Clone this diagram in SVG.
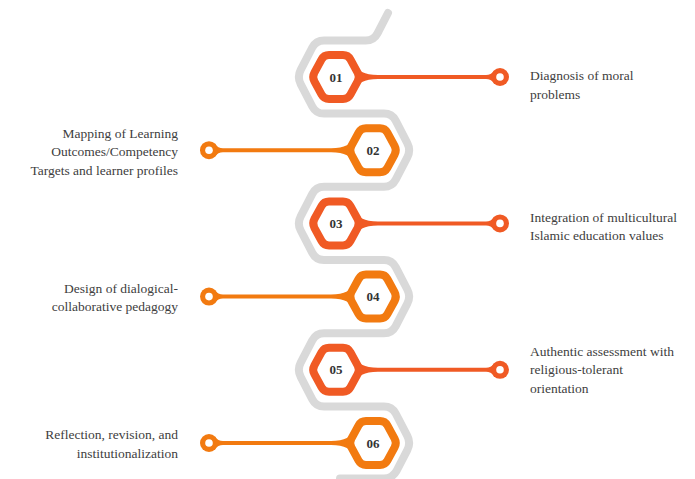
<svg xmlns="http://www.w3.org/2000/svg" xmlns:xlink="http://www.w3.org/1999/xlink" width="695" height="479" viewBox="0 0 695 479">
<style>
.track{fill:none;stroke:#d9d9d9;stroke-width:8;stroke-linecap:round;stroke-linejoin:round}
.hexA{fill:#fff;stroke:#f05a24;stroke-width:8}
.hexB{fill:#fff;stroke:#f27a10;stroke-width:8}
.cA{fill:#f05a24}
.cB{fill:#f27a10}
.num{font-family:"Liberation Serif",serif;font-weight:bold;font-size:13px;fill:#333;text-anchor:middle}
.lbl{font-family:"Liberation Serif",serif;font-size:13.5px;fill:#404040}
.r{text-anchor:end}
</style>
<defs>
<path id="hex" d="M-21.6,-4.4 L-14.4,-17.6 Q-12,-22 -7,-22 L7,-22 Q12,-22 14.4,-17.6 L21.6,-4.4 Q24,0 21.6,4.4 L14.4,17.6 Q12,22 7,22 L-7,22 Q-12,22 -14.4,17.6 L-21.6,4.4 Q-24,0 -21.6,-4.4 Z"/>
<path id="conn" d="M17,-14 C22,-6 28,-2 42,-2 L150,-2 Q155,-2 158,-6 L158,6 Q155,2 150,2 L42,2 C28,2 22,6 17,14 Z"/>
<g id="ring"><circle cx="164" cy="0" r="9"/></g>
</defs>
<g id="track">
<path class="track" d="M388,13 L377.5,33.3 Q373.8,40.4 365.8,40.4 L324,40.4 Q316,40.4 312.3,47.5 L300.7,69.9 Q297,77 300.7,84.1 L312.3,106.5 Q316,113.6 324,113.6 L384,113.6 Q392,113.6 395.7,120.7 L407.3,143.1 Q411,150.2 407.3,157.3 L395.7,179.7 Q392,186.8 384,186.8 L324,186.8 Q316,186.8 312.3,193.9 L300.7,216.3 Q297,223.4 300.7,230.5 L312.3,252.9 Q316,260 324,260 L384,260 Q392,260 395.7,267.1 L407.3,289.5 Q411,296.6 407.3,303.7 L395.7,326.1 Q392,333.2 384,333.2 L324,333.2 Q316,333.2 312.3,340.3 L300.7,362.7 Q297,369.8 300.7,376.9 L312.3,399.3 Q316,406.4 324,406.4 L384,406.4 Q392,406.4 395.7,413.5 L407.3,435.9 Q411,443 407.3,450.1 L396.5,471 Q392,478.5 384,478.5 L340,478.5"/>
</g>
<g id="connectors">
<g class="cA" transform="translate(336,77)"><use xlink:href="#conn"/><circle cx="164" cy="0" r="9"/><circle cx="164" cy="0" r="3.8" fill="#fff"/></g>
<g class="cB" transform="translate(373,150.2) scale(-1,1)"><use xlink:href="#conn"/><circle cx="164" cy="0" r="9"/><circle cx="164" cy="0" r="3.8" fill="#fff"/></g>
<g class="cA" transform="translate(336,223.4)"><use xlink:href="#conn"/><circle cx="164" cy="0" r="9"/><circle cx="164" cy="0" r="3.8" fill="#fff"/></g>
<g class="cB" transform="translate(373,296.6) scale(-1,1)"><use xlink:href="#conn"/><circle cx="164" cy="0" r="9"/><circle cx="164" cy="0" r="3.8" fill="#fff"/></g>
<g class="cA" transform="translate(336,369.8)"><use xlink:href="#conn"/><circle cx="164" cy="0" r="9"/><circle cx="164" cy="0" r="3.8" fill="#fff"/></g>
<g class="cB" transform="translate(373,443) scale(-1,1)"><use xlink:href="#conn"/><circle cx="164" cy="0" r="9"/><circle cx="164" cy="0" r="3.8" fill="#fff"/></g>
</g>
<g id="node01">
<use xlink:href="#hex" class="hexA" transform="translate(336,77)"/>
<text class="num" x="336" y="81.5">01</text>
<text class="lbl" x="530" y="79.5">Diagnosis of moral</text>
<text class="lbl" x="530" y="98.5">problems</text>
</g>
<g id="node02">
<use xlink:href="#hex" class="hexB" transform="translate(373,150.2)"/>
<text class="num" x="373" y="154.7">02</text>
<text class="lbl r" x="178" y="137.5">Mapping of Learning</text>
<text class="lbl r" x="178" y="156">Outcomes/Competency</text>
<text class="lbl r" x="178" y="174.5">Targets and learner profiles</text>
</g>
<g id="node03">
<use xlink:href="#hex" class="hexA" transform="translate(336,223.4)"/>
<text class="num" x="336" y="227.9">03</text>
<text class="lbl" x="530" y="221.5">Integration of multicultural</text>
<text class="lbl" x="530" y="240">Islamic education values</text>
</g>
<g id="node04">
<use xlink:href="#hex" class="hexB" transform="translate(373,296.6)"/>
<text class="num" x="373" y="301.1">04</text>
<text class="lbl r" x="178" y="292.5">Design of dialogical-</text>
<text class="lbl r" x="178" y="311">collaborative pedagogy</text>
</g>
<g id="node05">
<use xlink:href="#hex" class="hexA" transform="translate(336,369.8)"/>
<text class="num" x="336" y="374.3">05</text>
<text class="lbl" x="530" y="355.5">Authentic assessment with</text>
<text class="lbl" x="530" y="374">religious-tolerant</text>
<text class="lbl" x="530" y="392.5">orientation</text>
</g>
<g id="node06">
<use xlink:href="#hex" class="hexB" transform="translate(373,443)"/>
<text class="num" x="373" y="447.5">06</text>
<text class="lbl r" x="178" y="439">Reflection, revision, and</text>
<text class="lbl r" x="178" y="457.5">institutionalization</text>
</g>
</svg>
